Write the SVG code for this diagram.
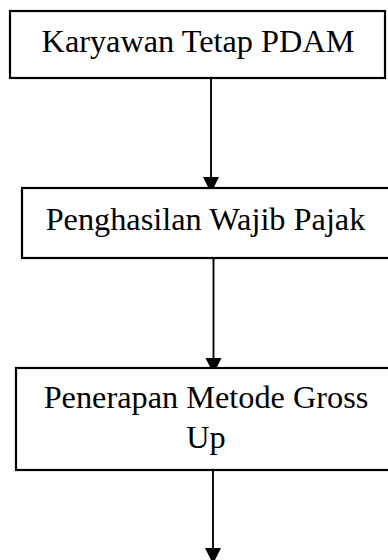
<svg xmlns="http://www.w3.org/2000/svg" width="388" height="560" viewBox="0 0 388 560">
<style>
.box{fill:#fff;stroke:#000;stroke-width:2.2}
.lbl{font-family:"Liberation Serif","Times New Roman",serif;font-size:32.3px;fill:#000;text-anchor:middle}
.con{stroke:#000;stroke-width:1.9;fill:none}
</style>
<defs>
<marker id="ah" markerUnits="userSpaceOnUse" markerWidth="18" markerHeight="18" refX="16" refY="8" orient="auto">
<path d="M0,0 L16,8 L0,16 Z" fill="#000"/>
</marker>
</defs>
<rect width="388" height="560" fill="#fff"/>
<g id="connectors">
<line class="con" x1="211" y1="79" x2="211" y2="193" marker-end="url(#ah)"/>
<line class="con" x1="213.5" y1="258" x2="213.5" y2="374" marker-end="url(#ah)"/>
<line class="con" x1="213" y1="470" x2="213" y2="564" marker-end="url(#ah)"/>
</g>
<g id="n1">
<rect class="box" x="10" y="11" width="375" height="67"/>
<text class="lbl" x="198" y="52">Karyawan Tetap PDAM</text>
</g>
<g id="n2">
<rect class="box" x="22" y="188" width="368" height="70"/>
<text class="lbl" x="205.5" y="230">Penghasilan Wajib Pajak</text>
</g>
<g id="n3">
<rect class="box" x="16" y="368" width="379" height="102"/>
<text class="lbl" x="206" y="408">Penerapan Metode Gross</text>
<text class="lbl" x="206" y="448">Up</text>
</g>
</svg>
